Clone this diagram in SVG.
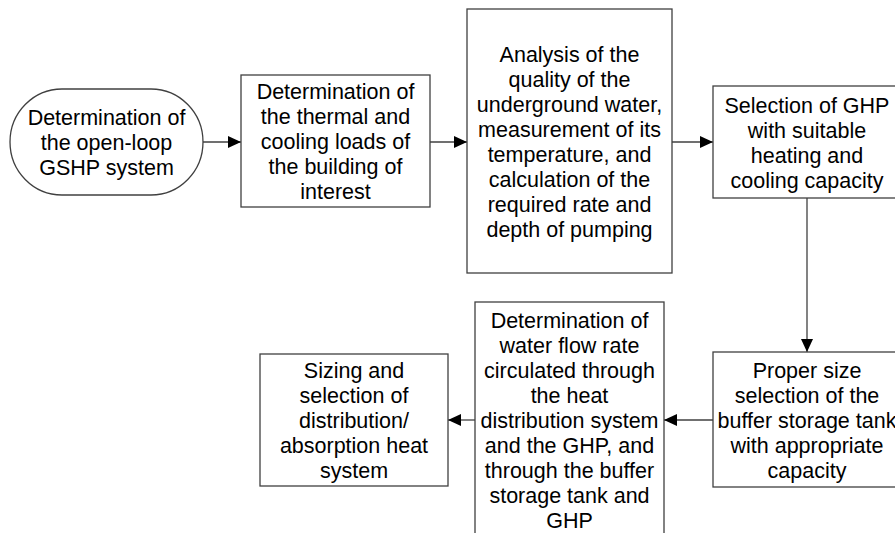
<svg xmlns="http://www.w3.org/2000/svg" width="895" height="533" viewBox="0 0 895 533">
  <style>
    .shape { fill: #ffffff; stroke: #404040; stroke-width: 1.3; }
    .label { font-family: "Liberation Sans", Arial, sans-serif; font-size: 21.5px; fill: #000000; text-anchor: middle; }
    .link { fill: none; stroke: #404040; stroke-width: 1.3; marker-end: url(#arrow); }
  </style>
  <defs>
    <marker id="arrow" markerUnits="userSpaceOnUse" markerWidth="14" markerHeight="12" refX="13" refY="6" orient="auto">
      <path d="M0,0 L13,6 L0,12 Z" fill="#000000"/>
    </marker>
  </defs>
  <rect width="895" height="533" fill="#ffffff"/>

  <!-- flow connectors -->
  <g id="connectors">
    <line class="link" x1="203" y1="142" x2="241" y2="142"/>
    <line class="link" x1="430" y1="142" x2="467" y2="142"/>
    <line class="link" x1="672" y1="142" x2="713" y2="142"/>
    <line class="link" x1="807" y1="198" x2="807" y2="352"/>
    <line class="link" x1="713" y1="420" x2="664" y2="420"/>
    <line class="link" x1="475" y1="420" x2="448" y2="420"/>
  </g>

  <g id="start">
    <rect class="shape" x="10" y="89" width="193" height="106" rx="52" ry="53"/>
    <text class="label" x="106.5" y="125">Determination of</text>
    <text class="label" x="106.5" y="150">the open-loop</text>
    <text class="label" x="106.5" y="175">GSHP system</text>
  </g>

  <g id="loads">
    <rect class="shape" x="241" y="75" width="189" height="132"/>
    <text class="label" x="335.5" y="99">Determination of</text>
    <text class="label" x="335.5" y="124">the thermal and</text>
    <text class="label" x="335.5" y="149">cooling loads of</text>
    <text class="label" x="335.5" y="174">the building of</text>
    <text class="label" x="335.5" y="199">interest</text>
  </g>

  <g id="water-analysis">
    <rect class="shape" x="467" y="9" width="205" height="264"/>
    <text class="label" x="569.5" y="61.5">Analysis of the</text>
    <text class="label" x="569.5" y="86.5">quality of the</text>
    <text class="label" x="569.5" y="111.5">underground water,</text>
    <text class="label" x="569.5" y="136.5">measurement of its</text>
    <text class="label" x="569.5" y="161.5">temperature, and</text>
    <text class="label" x="569.5" y="186.5">calculation of the</text>
    <text class="label" x="569.5" y="211.5">required rate and</text>
    <text class="label" x="569.5" y="236.5">depth of pumping</text>
  </g>

  <g id="ghp-selection">
    <rect class="shape" x="713" y="86" width="188" height="112"/>
    <text class="label" x="807" y="112.5">Selection of GHP</text>
    <text class="label" x="807" y="137.5">with suitable</text>
    <text class="label" x="807" y="162.5">heating and</text>
    <text class="label" x="807" y="187.5">cooling capacity</text>
  </g>

  <g id="buffer-tank">
    <rect class="shape" x="713" y="352" width="188" height="135"/>
    <text class="label" x="807" y="377.5">Proper size</text>
    <text class="label" x="807" y="402.5">selection of the</text>
    <text class="label" x="807" y="427.5">buffer storage tank</text>
    <text class="label" x="807" y="452.5">with appropriate</text>
    <text class="label" x="807" y="477.5">capacity</text>
  </g>

  <g id="flow-rate">
    <rect class="shape" x="475" y="302" width="189" height="250"/>
    <text class="label" x="569.5" y="328">Determination of</text>
    <text class="label" x="569.5" y="353">water flow rate</text>
    <text class="label" x="569.5" y="378">circulated through</text>
    <text class="label" x="569.5" y="403">the heat</text>
    <text class="label" x="569.5" y="428">distribution system</text>
    <text class="label" x="569.5" y="453">and the GHP, and</text>
    <text class="label" x="569.5" y="478">through the buffer</text>
    <text class="label" x="569.5" y="503">storage tank and</text>
    <text class="label" x="569.5" y="528">GHP</text>
  </g>

  <g id="distribution">
    <rect class="shape" x="260" y="354" width="188" height="132"/>
    <text class="label" x="354" y="378">Sizing and</text>
    <text class="label" x="354" y="403">selection of</text>
    <text class="label" x="354" y="428">distribution/</text>
    <text class="label" x="354" y="453">absorption heat</text>
    <text class="label" x="354" y="478">system</text>
  </g>
</svg>
